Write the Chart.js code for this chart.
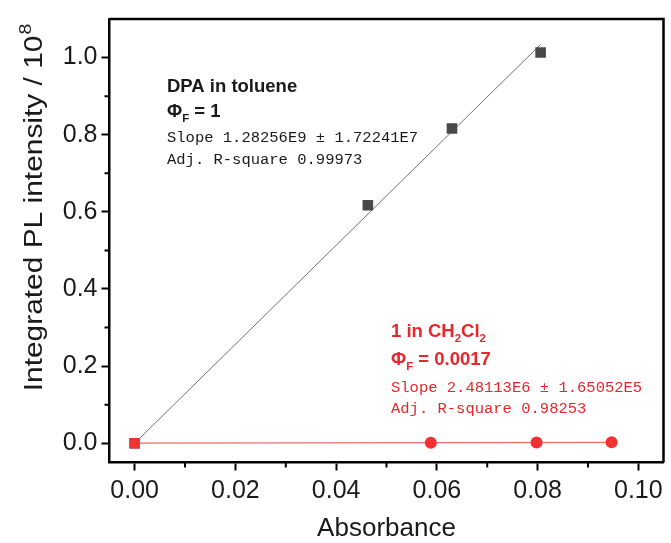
<!DOCTYPE html>
<html>
<head>
<meta charset="utf-8">
<script src="https://cdn.jsdelivr.net/npm/chart.js@4"></script>
<style>
  html, body { margin: 0; padding: 0; background: #fff; }
  #wrap { width: 671px; height: 543px; }
</style>
</head>
<body>
<div id="wrap"><canvas id="chart"></canvas></div>
<script>
// measured points
const dpaAbs = [0, 0.0463, 0.063, 0.0806];
const dpaPL = [0, 0.617, 0.816, 1.013];
const cmpAbs = [0, 0.0588, 0.0798, 0.0947];
const cmpPL = [0, 0.0015, 0.002, 0.0024];
// fitted lines (end points)
const dpaFitAbs = [0, 0.0806];
const dpaFitPL = [0, 1.034];
const cmpFitAbs = [0, 0.0947];
const cmpFitPL = [0, 0.0024];
// axis ticks
const xTicks = [0, 0.02, 0.04, 0.06, 0.08, 0.10];
const xMinor = [0.01, 0.03, 0.05, 0.07, 0.09];
const yTicks = [0, 0.2, 0.4, 0.6, 0.8, 1.0];
const yMinor = [0.1, 0.3, 0.5, 0.7, 0.9];

const SANS = '"Liberation Sans", Arial, sans-serif';
const MONO = '"Liberation Mono", "Courier New", monospace';
const RED = '#e8262b';

const pts = (xs, ys) => xs.map((x, i) => ({ x: x, y: ys[i] }));

function richText(ctx, x, y, parts, size, bold, color) {
  ctx.fillStyle = color;
  ctx.textBaseline = 'alphabetic';
  ctx.textAlign = 'left';
  parts.forEach(p => {
    const sub = p[1] === 'sub';
    const fs = sub ? size * 0.62 : size;
    ctx.font = (bold ? 'bold ' : '') + fs + 'px ' + SANS;
    ctx.fillText(p[0], x, y + (sub ? size * 0.28 : 0));
    x += ctx.measureText(p[0]).width;
  });
}

const extras = {
  id: 'extras',
  afterDraw(chart) {
    const ctx = chart.ctx;
    const a = chart.chartArea;
    const xs = chart.scales.x, ys = chart.scales.y;
    ctx.save();
    // frame top/right
    ctx.strokeStyle = '#000';
    ctx.lineWidth = 2.5;
    ctx.beginPath();
    ctx.moveTo(a.left, a.top);
    ctx.lineTo(a.right, a.top);
    ctx.lineTo(a.right, a.bottom);
    ctx.stroke();
    // minor ticks
    ctx.lineWidth = 2;
    ctx.beginPath();
    xMinor.forEach(v => {
      const px = xs.getPixelForValue(v);
      ctx.moveTo(px, a.bottom);
      ctx.lineTo(px, a.bottom + 5);
    });
    yMinor.forEach(v => {
      const py = ys.getPixelForValue(v);
      ctx.moveTo(a.left, py);
      ctx.lineTo(a.left - 5, py);
    });
    ctx.stroke();

    // axis titles
    ctx.fillStyle = '#1a1a1a';
    ctx.font = '26px ' + SANS;
    ctx.textAlign = 'center';
    ctx.textBaseline = 'alphabetic';
    ctx.fillText('Absorbance', (a.left + a.right) / 2, 536);

    ctx.save();
    ctx.translate(42, 208);
    ctx.rotate(-Math.PI / 2);
    ctx.scale(1.15, 1);
    const main = 'Integrated PL intensity / 10';
    ctx.font = '26px ' + SANS;
    const w1 = ctx.measureText(main).width;
    ctx.font = '17px ' + SANS;
    const w2 = ctx.measureText('8').width;
    const start = -(w1 + w2) / 2;
    ctx.textAlign = 'left';
    ctx.font = '26px ' + SANS;
    ctx.fillText(main, start, 0);
    ctx.font = '17px ' + SANS;
    ctx.fillText('8', start + w1 + 1, -11);
    ctx.restore();

    // annotations, DPA
    richText(ctx, 167, 92, [['DPA in toluene']], 18.5, true, '#1a1a1a');
    richText(ctx, 167, 117, [['\u03A6'], ['F', 'sub'], [' = 1']], 18.5, true, '#1a1a1a');
    ctx.font = '15.5px ' + MONO;
    ctx.fillText('Slope 1.28256E9 \u00B1 1.72241E7', 167, 142);
    ctx.fillText('Adj. R-square 0.99973', 167, 164);
    // annotations, compound 1
    richText(ctx, 391, 337, [['1 in CH'], ['2', 'sub'], ['Cl'], ['2', 'sub']], 18.5, true, RED);
    richText(ctx, 391, 365, [['\u03A6'], ['F', 'sub'], [' = 0.0017']], 18.5, true, RED);
    ctx.font = '15.5px ' + MONO;
    ctx.fillText('Slope 2.48113E6 \u00B1 1.65052E5', 391, 392);
    ctx.fillText('Adj. R-square 0.98253', 391, 413);
    ctx.restore();
  }
};

new Chart(document.getElementById('chart'), {
  type: 'scatter',
  data: {
    datasets: [
      {
        data: pts(cmpAbs, cmpPL),
        order: 0,
        showLine: false,
        pointStyle: ['rect', 'circle', 'circle', 'circle'],
        pointRadius: [7.5, 6, 6, 6],
        backgroundColor: '#ee3333',
        borderColor: '#ee3333',
        borderWidth: 0
      },
      {
        data: pts(cmpFitAbs, cmpFitPL),
        order: 1,
        showLine: true,
        pointRadius: 0,
        borderColor: '#f06c6c',
        borderWidth: 1.3
      },
      {
        data: pts(dpaAbs, dpaPL),
        order: 2,
        showLine: false,
        pointStyle: 'rect',
        pointRadius: 7.5,
        backgroundColor: '#484848',
        borderColor: '#484848',
        borderWidth: 0
      },
      {
        data: pts(dpaFitAbs, dpaFitPL),
        order: 3,
        showLine: true,
        pointRadius: 0,
        borderColor: '#707070',
        borderWidth: 1
      }
    ]
  },
  options: {
    responsive: true,
    maintainAspectRatio: false,
    animation: false,
    layout: { padding: { top: 12, right: 3.5, left: 0, bottom: 0 } },
    plugins: { legend: { display: false }, tooltip: { enabled: false } },
    scales: {
      x: {
        type: 'linear',
        min: -0.005,
        max: 0.105,
        afterBuildTicks: s => { s.ticks = xTicks.map(v => ({ value: v })); },
        afterFit: s => { s.height = 80.5; },
        grid: { drawOnChartArea: false, tickLength: 8, tickWidth: 2, tickColor: '#000' },
        border: { display: true, color: '#000', width: 2.5 },
        ticks: {
          color: '#1a1a1a',
          font: { size: 25, family: SANS },
          padding: 6,
          maxRotation: 0,
          callback: v => v.toFixed(2)
        }
      },
      y: {
        type: 'linear',
        min: -0.05,
        max: 1.1,
        afterBuildTicks: s => { s.ticks = yTicks.map(v => ({ value: v })); },
        afterFit: s => { s.width = 109.5; },
        grid: { drawOnChartArea: false, tickLength: 8, tickWidth: 2, tickColor: '#000' },
        border: { display: true, color: '#000', width: 2.5 },
        ticks: {
          color: '#1a1a1a',
          font: { size: 25, family: SANS },
          padding: 4,
          callback: v => v.toFixed(1)
        }
      }
    }
  },
  plugins: [extras]
});
</script>
</body>
</html>
